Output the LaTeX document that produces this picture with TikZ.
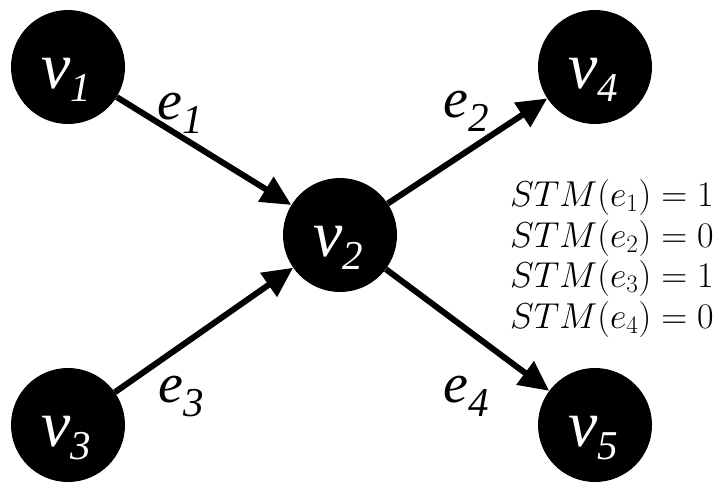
\RequirePackage{fix-cm}
\documentclass[tikz,border=0pt]{standalone}
\usepackage{fontspec}
\setmainfont{Liberation Serif}
\newfontfamily\labelfont{Liberation Serif}[UprightFont={* Italic}]
\usetikzlibrary{arrows.meta}

% italic letter with a lowered italic digit
\newcommand{\vertexlab}[2]{{\labelfont\fontsize{66}{66}\selectfont #1}\raisebox{-13pt}{\labelfont\fontsize{41}{41}\selectfont #2}}
\newcommand{\edgelab}[2]{{\labelfont\fontsize{56}{56}\selectfont #1}\raisebox{-14pt}{\labelfont\fontsize{41}{41}\selectfont #2}}

\begin{document}
\begin{tikzpicture}[x=1pt,y=-1pt,
  vertex/.style={circle,fill=black,minimum size=114pt,inner sep=0pt},
  vtext/.style={text=white,inner sep=0pt,anchor=base},
  etext/.style={inner sep=0pt,anchor=base west},
  edge/.style={line width=6pt,-{Triangle[length=30pt,width=28pt]}}]
\useasboundingbox (0,0) rectangle (722,485);

% vertices
\node[vertex] (v1) at (68,67) {};
\node[vertex] (v2) at (340,235) {};
\node[vertex] (v3) at (68,425) {};
\node[vertex] (v4) at (595,67) {};
\node[vertex] (v5) at (595,425) {};

\node[vtext] (l1) at (66,88) {\vertexlab{v}{1}};
\node[vtext] (l2) at (338,256) {\vertexlab{v}{2}};
\node[vtext] (l3) at (66,446) {\vertexlab{v}{3}};
\node[vtext] (l4) at (593,88) {\vertexlab{v}{4}};
\node[vtext] (l5) at (593,446) {\vertexlab{v}{5}};

% directed edges
\draw[edge] (v1) -- (v2);
\draw[edge] (v3) -- (v2);
\draw[edge] (v2) -- (v4);
\draw[edge] (v2) -- (v5);

% edge labels
\node[etext] (e1) at (157,119) {\edgelab{e}{1}};
\node[etext] (e2) at (443,117) {\edgelab{e}{2}};
\node[etext] (e3) at (158,402) {\edgelab{e}{3}};
\node[etext] (e4) at (443,402) {\edgelab{e}{4}};

% edge values (base anchor sits on the last line)
\node[inner sep=0pt,anchor=base west,align=left,font={\fontsize{36}{40.5}\selectfont}] (stm) at (510,328)
  {$STM(e_1) = 1$\\ $STM(e_2) = 0$\\ $STM(e_3) = 1$\\ $STM(e_4) = 0$};
\end{tikzpicture}
\end{document}
